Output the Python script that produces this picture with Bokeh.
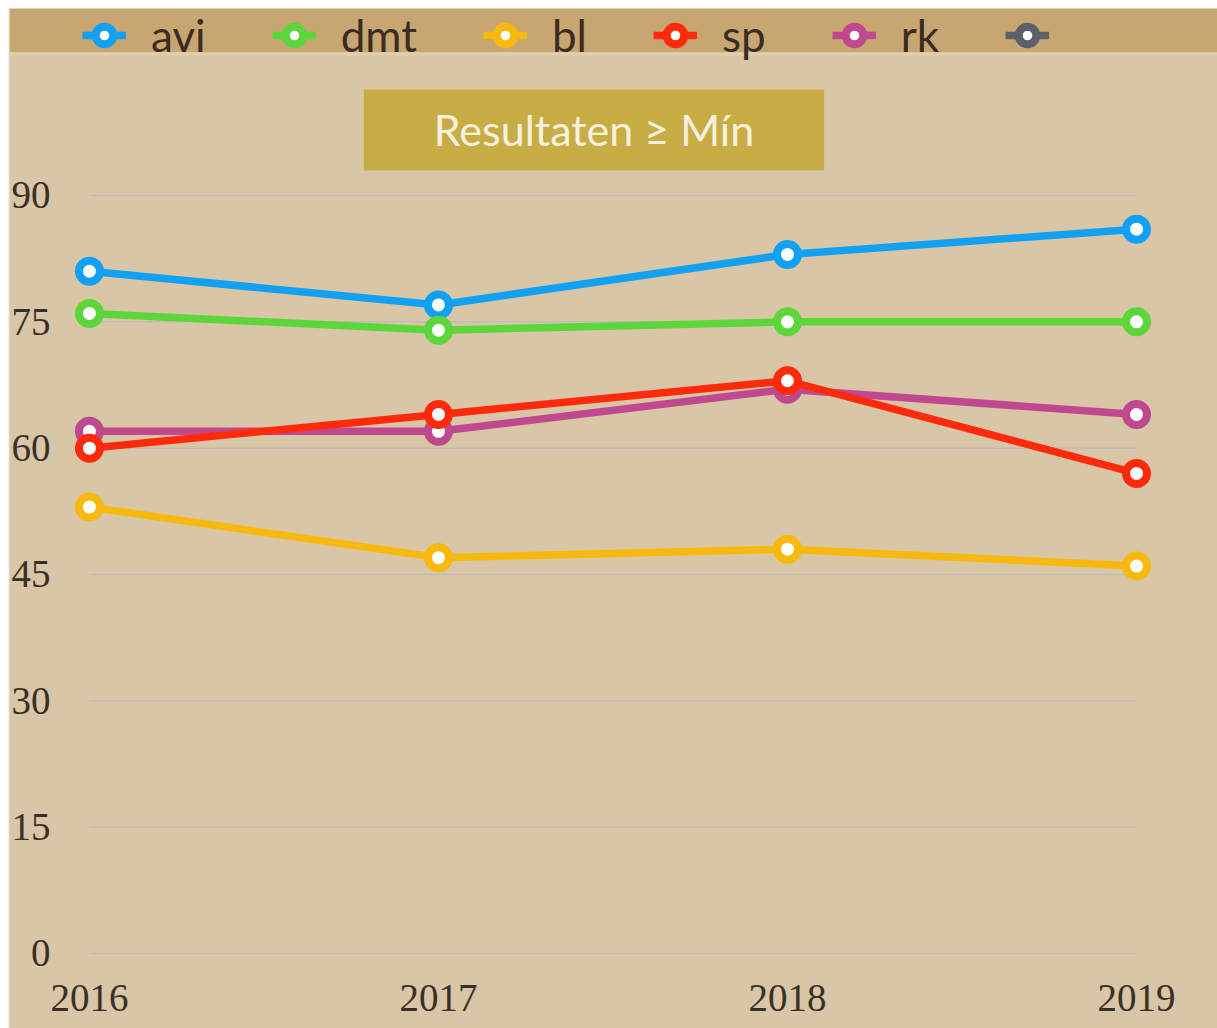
from bokeh.plotting import figure
from bokeh.models import Range1d, FixedTicker, Legend, LegendItem, Label, BoxAnnotation
from bokeh.embed import file_html
from bokeh.resources import INLINE

# ---- data ----
years = [2016, 2017, 2018, 2019]
year_labels = ["2016", "2017", "2018", "2019"]
avi = [81, 77, 83, 86]
dmt = [76, 74, 75, 75]
bl = [53, 47, 48, 46]
sp = [60, 64, 68, 57]
rk = [62, 62, 67, 64]
grey = [float("nan")]
series_names = ["avi", "dmt", "bl", "sp", "rk", "\u00a0"]
y_ticks = [0, 15, 30, 45, 60, 75, 90]
title_text = "Resultaten ≥ Mín"

colors = {"avi": "#12a0f2", "dmt": "#5cd63a", "bl": "#f7b90d",
          "sp": "#ff2a0c", "rk": "#c0488e", "\u00a0": "#5c6068"}

BG = "#d8c6a7"

p = figure(width=1209, height=1020, output_backend="svg", toolbar_location=None,
           x_range=Range1d(2015.771, 2019.232), y_range=Range1d(-8.905, 112.2),
           min_border_left=0, min_border_right=0, min_border_top=0, min_border_bottom=0,
           background_fill_color=BG, border_fill_color=BG, outline_line_color=None)
p.styles = {"margin-left": "8px", "margin-top": "8px"}

# top darker band (paper strip)
band = BoxAnnotation(bottom=107.0, fill_color="#c8a672", fill_alpha=1.0, line_color=None, level="underlay")
p.add_layout(band)
edge = BoxAnnotation(bottom=106.6, top=107.0, fill_color="#e0cdac", fill_alpha=1.0, line_color=None, level="underlay")
p.add_layout(edge)

p.xgrid.visible = False
p.ygrid.visible = False
# grid lines spanning the year range
p.segment(x0=years[0], x1=years[-1], y0=y_ticks, y1=y_ticks, line_color="#c2bcb6", line_width=1.5)

for ax in (p.xaxis[0], p.yaxis[0]):
    ax.axis_line_color = None
    ax.major_tick_line_color = None
    ax.minor_tick_line_color = None
    ax.major_tick_out = 0
    ax.major_tick_in = 0
    ax.major_label_text_font = "Liberation Serif"
    ax.major_label_text_font_size = "39px"
    ax.major_label_text_color = "#3a3028"

p.xaxis.ticker = FixedTicker(ticks=years)
p.xaxis.major_label_overrides = {y: l for y, l in zip(years, year_labels)}
p.xaxis.major_label_standoff = -44
p.yaxis.ticker = FixedTicker(ticks=y_ticks)
p.yaxis.major_label_standoff = -41

data = {"avi": avi, "dmt": dmt, "bl": bl, "sp": sp, "rk": rk, "\u00a0": grey}
draw_order = ["avi", "dmt", "bl", "rk", "sp", "\u00a0"]
rends = {}
for name in draw_order:
    vals = data[name]
    xs = years[:len(vals)]
    l = p.line(xs, vals, line_color=colors[name], line_width=7.5)
    s = p.scatter(xs, vals, size=21, fill_color="white", line_color=colors[name], line_width=8)
    rends[name] = [l, s]

items = [LegendItem(label=n, renderers=rends[n]) for n in series_names]
legend = Legend(items=items, orientation="horizontal", location=(73, 967),
                glyph_width=44, glyph_height=50, label_height=50, label_standoff=25,
                spacing=66, padding=0, margin=0, border_line_color=None,
                background_fill_alpha=0, label_text_font="Lato",
                label_text_font_size="44px", label_text_color="#3a2c20")
p.add_layout(legend)

title = Label(x=2017.4456, y=97.78, text=title_text, text_align="center", text_baseline="middle",
              text_font="Lato", text_font_size="43px", text_color="#f6f1de",
              background_fill_color="#c8ad46", padding=dict(left=70, right=70, top=15, bottom=15))
p.add_layout(title)

open("out.html", "w").write(file_html(p, INLINE))
